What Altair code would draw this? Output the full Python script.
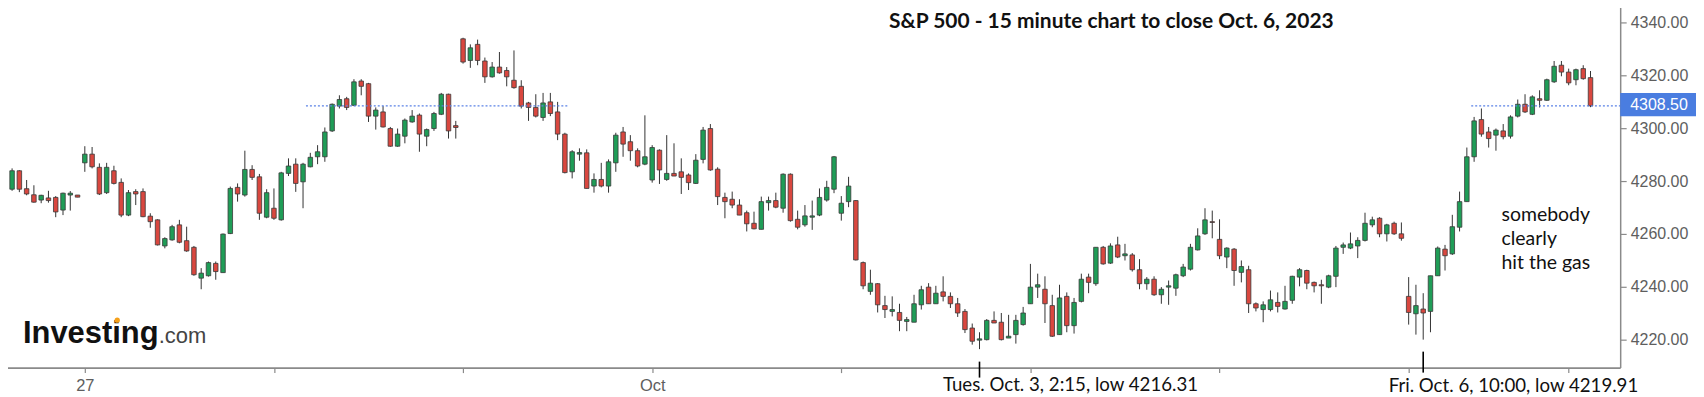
import altair as alt
import pandas as pd

# ---------------- data ----------------
OPEN = [4286.3, 4276.9, 4283.9, 4277.1, 4274.8, 4272.8, 4273.6, 4273.8, 4269.0, 4274.7,
        4274.7, 4286.9, 4290.2, 4285.2, 4275.6, 4283.9, 4279.5, 4267.1, 4276.0, 4276.0,
        4266.7, 4265.3, 4255.4, 4257.7, 4263.4, 4257.4, 4254.9, 4243.2, 4244.1, 4248.8,
        4245.3, 4260.1, 4277.6, 4274.7, 4284.4, 4281.6, 4266.3, 4269.7, 4265.3, 4282.9,
        4286.4, 4279.7, 4285.4, 4289.2, 4289.2, 4299.0, 4308.4, 4311.2, 4308.7, 4317.9,
        4316.9, 4304.6, 4306.2, 4299.9, 4293.2, 4297.0, 4302.4, 4305.0, 4297.0, 4299.9,
        4305.3, 4312.9, 4301.0, 4333.9, 4325.7, 4331.8, 4325.5, 4319.5, 4323.2, 4321.9,
        4318.2, 4315.9, 4309.6, 4307.9, 4304.1, 4310.0, 4306.2, 4297.8, 4283.5, 4290.2,
        4290.7, 4278.1, 4280.6, 4278.1, 4286.9, 4298.6, 4294.9, 4291.5, 4286.4, 4280.4,
        4291.7, 4280.6, 4282.9, 4283.5, 4282.3, 4279.1, 4288.2, 4299.9, 4284.5, 4273.8,
        4273.1, 4270.9, 4268.0, 4264.0, 4261.7, 4271.8, 4272.6, 4269.7, 4282.6, 4265.5,
        4263.4, 4266.3, 4267.1, 4272.8, 4276.9, 4267.8, 4272.2, 4272.6, 4249.1, 4238.2,
        4241.1, 4232.8, 4230.6, 4230.2, 4226.8, 4226.5, 4233.1, 4239.8, 4233.5, 4238.0,
        4236.3, 4233.5, 4230.6, 4224.3, 4219.7, 4219.9, 4227.2, 4226.5, 4220.5, 4221.8,
        4225.6, 4233.5, 4239.8, 4239.0, 4232.8, 4221.8, 4236.3, 4225.2, 4234.4, 4243.6,
        4241.1, 4254.9, 4248.9, 4255.8, 4251.7, 4252.0, 4246.4, 4241.1, 4242.8, 4236.9,
        4239.8, 4239.4, 4244.1, 4246.6, 4253.9, 4260.0, 4264.6, 4257.9, 4251.2, 4254.2,
        4245.4, 4246.4, 4233.5, 4231.3, 4231.3, 4234.0, 4231.5, 4234.8, 4243.6, 4246.1,
        4241.6, 4240.7, 4239.8, 4243.9, 4254.9, 4254.6, 4255.4, 4257.5, 4263.4, 4265.9,
        4260.0, 4264.0, 4260.0, 4236.3, 4229.7, 4231.5, 4230.6, 4244.1, 4254.2, 4252.4,
        4262.5, 4272.2, 4289.2, 4303.3, 4298.6, 4297.4, 4299.0, 4297.0, 4304.6, 4309.1,
        4305.3, 4311.2, 4310.6, 4317.6, 4323.9, 4321.3, 4318.4, 4322.6, 4319.2]
HIGH = [4288.3, 4284.8, 4284.1, 4280.4, 4278.4, 4274.8, 4276.3, 4274.3, 4275.6, 4276.2,
        4274.7, 4293.2, 4292.9, 4286.7, 4286.9, 4285.8, 4281.0, 4276.6, 4276.9, 4277.2,
        4267.8, 4265.5, 4258.7, 4263.4, 4265.3, 4262.7, 4255.4, 4247.0, 4249.5, 4249.5,
        4260.1, 4277.9, 4279.1, 4291.5, 4286.0, 4282.7, 4276.9, 4277.2, 4283.5, 4288.6,
        4288.6, 4286.9, 4290.7, 4293.6, 4300.3, 4309.4, 4312.5, 4311.9, 4318.6, 4318.6,
        4317.2, 4307.9, 4308.4, 4300.5, 4299.9, 4303.7, 4306.9, 4305.6, 4299.9, 4306.2,
        4313.4, 4313.1, 4302.8, 4334.3, 4331.8, 4333.6, 4326.8, 4325.1, 4328.9, 4323.2,
        4329.5, 4318.2, 4310.0, 4312.9, 4313.4, 4313.4, 4310.0, 4298.3, 4291.7, 4292.4,
        4292.0, 4282.9, 4286.9, 4288.2, 4298.3, 4300.5, 4297.4, 4292.4, 4304.9, 4293.6,
        4292.0, 4297.4, 4294.3, 4288.6, 4282.9, 4290.2, 4300.5, 4301.6, 4285.2, 4275.6,
        4276.0, 4273.1, 4268.8, 4268.4, 4274.1, 4274.1, 4275.6, 4282.9, 4282.9, 4268.8,
        4270.9, 4272.6, 4277.2, 4280.1, 4289.5, 4274.3, 4281.6, 4272.8, 4249.5, 4246.4,
        4241.3, 4236.5, 4236.3, 4233.5, 4228.5, 4236.9, 4240.3, 4241.3, 4240.3, 4243.9,
        4237.8, 4235.7, 4231.5, 4226.0, 4222.7, 4227.7, 4230.6, 4230.0, 4229.3, 4229.3,
        4232.3, 4248.6, 4244.9, 4243.9, 4236.9, 4240.7, 4237.8, 4235.7, 4244.9, 4244.9,
        4254.9, 4255.4, 4256.4, 4258.9, 4256.2, 4252.7, 4250.4, 4243.6, 4243.9, 4239.8,
        4242.3, 4244.9, 4248.6, 4256.2, 4262.1, 4269.7, 4268.8, 4265.5, 4254.9, 4254.6,
        4249.9, 4247.9, 4234.0, 4234.4, 4238.5, 4237.8, 4240.3, 4244.1, 4247.0, 4246.4,
        4241.9, 4242.6, 4244.5, 4255.4, 4256.7, 4260.5, 4258.7, 4268.0, 4266.5, 4266.3,
        4263.8, 4264.6, 4264.3, 4243.6, 4240.7, 4237.5, 4244.1, 4255.2, 4255.8, 4267.2,
        4276.0, 4292.7, 4304.3, 4307.5, 4300.5, 4299.9, 4301.6, 4304.9, 4310.9, 4312.9,
        4312.5, 4314.4, 4318.8, 4325.5, 4325.5, 4322.6, 4322.6, 4323.9, 4321.7]
LOW = [4276.8, 4276.3, 4275.8, 4274.6, 4271.8, 4271.6, 4271.8, 4266.3, 4267.1, 4268.8,
       4273.9, 4283.5, 4284.8, 4274.7, 4275.1, 4278.7, 4266.3, 4266.7, 4270.9, 4266.3,
       4262.3, 4255.6, 4254.5, 4257.4, 4256.4, 4253.2, 4244.1, 4239.0, 4243.8, 4242.6,
       4245.3, 4259.9, 4272.2, 4274.1, 4280.4, 4265.3, 4265.9, 4265.3, 4265.0, 4281.9,
       4275.9, 4269.7, 4285.2, 4286.4, 4287.3, 4298.6, 4307.5, 4306.9, 4308.4, 4312.5,
       4302.4, 4299.5, 4300.3, 4293.0, 4293.0, 4294.3, 4302.1, 4291.1, 4293.2, 4299.0,
       4305.0, 4296.1, 4296.1, 4324.5, 4322.9, 4323.9, 4317.2, 4319.2, 4320.7, 4315.9,
       4315.0, 4307.5, 4302.8, 4304.1, 4302.8, 4304.6, 4295.5, 4282.9, 4281.0, 4287.7,
       4277.2, 4275.6, 4277.6, 4275.6, 4283.5, 4289.2, 4287.7, 4285.2, 4286.0, 4279.4,
       4278.9, 4280.1, 4281.9, 4275.1, 4276.6, 4278.9, 4286.7, 4283.9, 4270.9, 4265.9,
       4269.7, 4267.1, 4260.9, 4261.7, 4261.7, 4268.8, 4269.7, 4268.0, 4264.6, 4261.7,
       4262.7, 4261.5, 4266.7, 4272.2, 4275.4, 4265.0, 4270.1, 4249.9, 4239.0, 4236.9,
       4230.2, 4228.1, 4228.7, 4223.1, 4223.1, 4226.5, 4231.3, 4233.5, 4233.5, 4234.4,
       4231.9, 4228.5, 4222.4, 4218.0, 4216.3, 4219.6, 4226.2, 4219.6, 4220.5, 4218.4,
       4225.2, 4233.5, 4235.7, 4226.2, 4220.9, 4221.8, 4222.7, 4222.2, 4234.0, 4237.5,
       4240.3, 4248.3, 4248.6, 4250.8, 4249.9, 4245.7, 4239.0, 4238.8, 4236.5, 4233.5,
       4233.1, 4236.5, 4243.6, 4246.1, 4253.7, 4259.6, 4258.3, 4250.4, 4247.0, 4240.3,
       4241.6, 4230.0, 4230.6, 4226.5, 4230.6, 4230.2, 4231.3, 4233.5, 4240.1, 4239.0,
       4237.8, 4233.5, 4239.4, 4239.8, 4252.4, 4254.2, 4250.8, 4257.1, 4262.5, 4258.7,
       4257.1, 4259.6, 4257.4, 4225.6, 4221.8, 4219.9, 4222.7, 4244.1, 4246.1, 4252.0,
       4260.9, 4272.2, 4287.3, 4296.8, 4292.7, 4291.5, 4295.8, 4296.1, 4304.1, 4305.8,
       4305.0, 4307.9, 4310.4, 4317.2, 4319.7, 4316.3, 4316.3, 4318.4, 4308.0]
CLOSE = [4277.2, 4283.9, 4276.9, 4275.1, 4272.0, 4274.6, 4272.6, 4268.3, 4275.4, 4275.4,
         4273.9, 4290.2, 4285.4, 4275.1, 4285.2, 4279.1, 4267.1, 4275.6, 4275.1, 4266.5,
         4264.6, 4255.8, 4258.2, 4262.7, 4256.8, 4253.5, 4244.5, 4245.1, 4249.1, 4245.7,
         4259.9, 4277.2, 4275.1, 4284.4, 4281.4, 4267.8, 4275.6, 4265.9, 4283.1, 4285.7,
         4279.1, 4286.4, 4289.0, 4291.1, 4298.6, 4309.1, 4310.9, 4307.9, 4317.6, 4315.9,
         4304.6, 4306.9, 4300.5, 4293.2, 4297.8, 4303.1, 4304.6, 4297.8, 4299.5, 4305.6,
         4312.9, 4299.0, 4300.3, 4325.1, 4330.5, 4325.7, 4319.5, 4323.2, 4321.0, 4319.5,
         4315.4, 4308.4, 4307.9, 4304.6, 4309.6, 4305.6, 4297.8, 4283.2, 4291.1, 4290.8,
         4277.2, 4280.6, 4278.1, 4287.3, 4297.4, 4294.0, 4291.5, 4285.7, 4289.2, 4292.7,
         4284.2, 4282.9, 4281.9, 4281.4, 4279.4, 4287.9, 4299.3, 4284.2, 4274.1, 4272.2,
         4270.9, 4267.1, 4263.8, 4261.9, 4272.2, 4272.6, 4270.1, 4282.6, 4265.0, 4262.5,
         4266.8, 4266.8, 4273.8, 4277.6, 4289.2, 4271.6, 4278.1, 4250.1, 4240.3, 4241.3,
         4233.1, 4231.3, 4231.3, 4227.2, 4227.5, 4233.5, 4238.8, 4233.5, 4237.5, 4236.3,
         4233.5, 4230.0, 4223.7, 4219.3, 4220.2, 4227.2, 4226.2, 4219.9, 4221.2, 4227.2,
         4230.0, 4239.8, 4240.7, 4233.5, 4221.2, 4235.7, 4225.2, 4234.0, 4242.8, 4241.6,
         4254.9, 4248.6, 4255.4, 4251.2, 4252.4, 4246.4, 4241.1, 4242.8, 4236.9, 4239.0,
         4240.3, 4244.5, 4247.4, 4254.9, 4259.2, 4265.3, 4264.3, 4251.7, 4254.6, 4246.1,
         4247.6, 4233.5, 4231.9, 4233.1, 4235.0, 4232.5, 4234.4, 4243.9, 4246.4, 4241.3,
         4240.3, 4240.3, 4244.1, 4254.6, 4255.8, 4256.2, 4257.5, 4264.0, 4265.3, 4260.0,
         4263.4, 4260.0, 4258.3, 4230.2, 4232.8, 4230.0, 4244.1, 4254.6, 4251.7, 4262.7,
         4272.2, 4289.2, 4302.8, 4297.8, 4296.1, 4299.3, 4296.8, 4304.3, 4309.1, 4306.2,
         4311.9, 4310.6, 4318.4, 4323.5, 4321.3, 4317.2, 4322.2, 4318.8, 4308.5]
BAR = list(range(1, len(OPEN) + 1))          # 15-minute bar number

TICK_POS = [12, 38, 64, 90, 116, 142, 168, 194, 216]
TICK_LABELS = ["27", "", "", "Oct", "", "", "", "", ""]
Y_TICKS = [4220, 4240, 4260, 4280, 4300, 4320, 4340]
LAST_PRICE = 4308.50
LEVEL_FROM = [42.4, 202.6]
LEVEL_TO = [78.5, 223.08]
LOW_BARS = [135, 196]
LOW_TEXTS = ["Tues. Oct. 3, 2:15, low 4216.31", "Fri. Oct. 6, 10:00, low 4219.91"]
TITLE = "S&P 500 - 15 minute chart to close Oct. 6, 2023"
NOTE = "somebody\nclearly\nhit the gas"

# ---------------- styling ----------------
W, H = 1620, 368
GREEN, RED, EDGE = "#1f9d57", "#d9473f", "#3a3a3a"
AXIS_GREY, LABEL_GREY = "#8a8a8a", "#5e5e5e"
SANS, CAL = "Liberation Sans", "Lato"

df = pd.DataFrame({"i": BAR, "o": OPEN, "h": HIGH, "l": LOW, "c": CLOSE})

xscale = alt.Scale(domain=[0.89, 223.08], nice=False, zero=False)
yscale = alt.Scale(domain=[4209.3, 4348.43], nice=False, zero=False)

label_expr = " : ".join(
    f"datum.value == {p} ? '{t}'" for p, t in zip(TICK_POS, TICK_LABELS) if t
) + " : ''"

XAX = alt.Axis(values=TICK_POS, labelExpr=label_expr, title=None, grid=False,
               orient="bottom", tickSize=5, tickColor=AXIS_GREY, domainColor=AXIS_GREY,
               domainWidth=1.6, tickWidth=1.2, labelFont=SANS, labelFontSize=16.5,
               labelColor=LABEL_GREY, labelBaseline="alphabetic", labelPadding=17.5)
YAX = alt.Axis(values=Y_TICKS, format=".2f", title=None, grid=False, orient="right",
               tickSize=6, tickColor=AXIS_GREY, domainColor=AXIS_GREY, domainWidth=1.5,
               tickWidth=1.2, labelFont=SANS, labelFontSize=16, labelColor=LABEL_GREY,
               labelPadding=4, labelBaseline="middle")

base = alt.Chart(df)

wicks = base.mark_rule(color="#333333", strokeWidth=1).encode(
    x=alt.X("i:Q", scale=xscale, axis=XAX),
    y=alt.Y("l:Q", scale=yscale, axis=YAX),
    y2="h:Q",
)

bodies = base.transform_calculate(
    x0="datum.i - 0.31", x1="datum.i + 0.31",
    top="max(datum.o, datum.c)", bot="min(datum.o, datum.c)",
).mark_rect(stroke=EDGE, strokeWidth=0.8).encode(
    x=alt.X("x0:Q", scale=xscale, axis=XAX),
    x2="x1:Q",
    y=alt.Y("top:Q", scale=yscale, axis=YAX),
    y2="bot:Q",
    fill=alt.condition("datum.c < datum.o", alt.value(RED), alt.value(GREEN)),
)

levels = alt.Chart(pd.DataFrame({"a": LEVEL_FROM, "b": LEVEL_TO,
                                 "p": [LAST_PRICE] * len(LEVEL_FROM)})).mark_rule(
    color="#5b82e6", strokeWidth=1.2, strokeDash=[2, 2]
).encode(
    x=alt.X("a:Q", scale=xscale, axis=XAX), x2="b:Q",
    y=alt.Y("p:Q", scale=yscale, axis=YAX),
)

layers = [wicks, bodies, levels]

# black markers under the two lows
for b, (y0, y1) in zip(LOW_BARS, [(362, 378), (352, 373)]):
    layers.append(
        alt.Chart(pd.DataFrame({"b": [b]})).mark_rule(color="black", strokeWidth=1.6).encode(
            x=alt.X("b:Q", scale=xscale, axis=XAX), y=alt.value(y0), y2=alt.value(y1)
        )
    )

def text_layer(txt, x, y, **kw):
    return alt.Chart(pd.DataFrame({"t": [txt]})).mark_text(**kw).encode(
        text="t:N", x=alt.value(x), y=alt.value(y)
    )

# low annotations replacing axis labels
layers.append(text_layer(LOW_TEXTS[0], 1069, 391.5, font=CAL, fontSize=18.7, color="#111",
                         align="center", baseline="alphabetic"))
layers.append(text_layer(LOW_TEXTS[1], 1513, 392, font=CAL, fontSize=18.7, color="#111",
                         align="center", baseline="alphabetic"))
# title
layers.append(text_layer(TITLE, 1110, 28, font=CAL, fontSize=21, fontWeight="bold",
                         color="#111", align="center", baseline="alphabetic"))
# note
layers.append(text_layer(NOTE, 1501, 221.5, font=CAL, fontSize=19.5, color="#111",
                         align="left", baseline="alphabetic", lineBreak="\n", lineHeight=23.8))
# Investing.com logo
layers.append(text_layer("Investing", 19, 343, font=SANS, fontSize=31, fontWeight="bold",
                         color="#111", align="left", baseline="alphabetic"))
layers.append(text_layer(".com", 155, 343, font=SANS, fontSize=22, color="#444",
                         align="left", baseline="alphabetic"))
layers.append(
    alt.Chart(pd.DataFrame({"t": ["dot"]})).mark_point(
        filled=True, shape="circle", size=28, color="#f5a01a", opacity=1
    ).encode(x=alt.value(113.5), y=alt.value(320.5))
)
# last price tag on the right axis
layers.append(
    alt.Chart(pd.DataFrame({"p": [LAST_PRICE]})).mark_rect(color="#4a7de0").encode(
        x=alt.value(1620), x2=alt.value(1696),
        y=alt.value(92.7), y2=alt.value(116),
    )
)
layers.append(
    alt.Chart(pd.DataFrame({"p": [LAST_PRICE]})).mark_text(
        font=SANS, fontSize=16, color="white", align="left", baseline="middle"
    ).encode(text=alt.Text("p:Q", format=".2f"), x=alt.value(1630), y=alt.value(104.6))
)

chart = alt.layer(*layers).properties(
    width=W, height=H,
    autosize=alt.AutoSizeParams(type="none"),
    padding={"left": -4, "top": -8, "right": 76, "bottom": 29},
    background="white",
).configure_view(stroke=None)

chart.save("out.html", embed_options={"renderer": "svg", "actions": False})
